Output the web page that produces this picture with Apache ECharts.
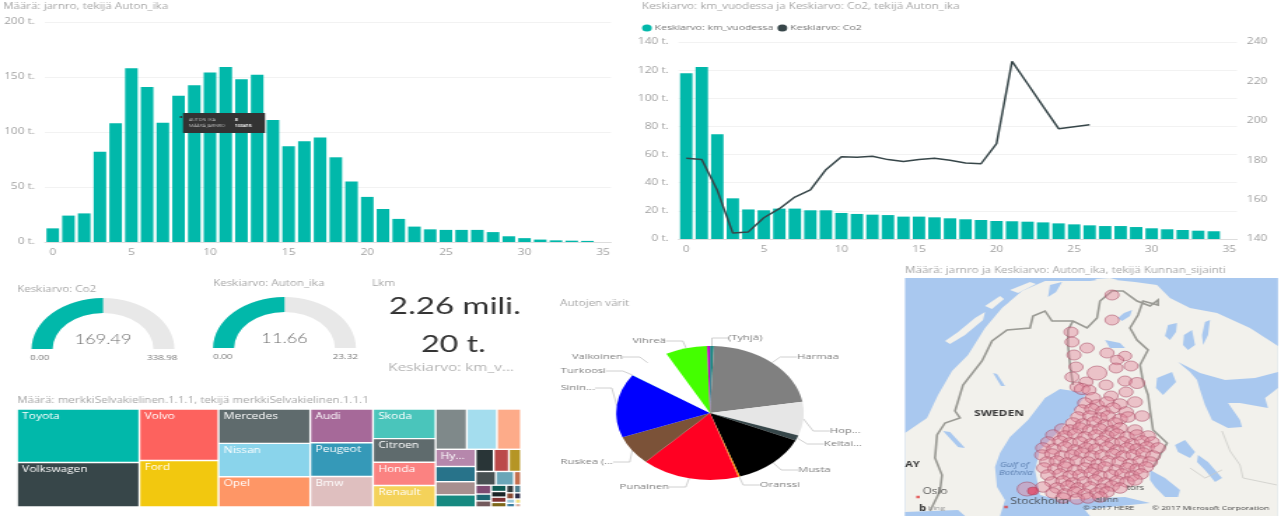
<!DOCTYPE html>
<html>
<head>
<meta charset="utf-8">
<title>Autot</title>
<script src="https://cdn.jsdelivr.net/npm/echarts@6/dist/echarts.min.js"></script>
<style>
    html, body { margin: 0; padding: 0; background: #fff; overflow: hidden; }
    /* the dashboard is wider than tall in the picture, everything is stretched sideways */
    #main { width: 915.72px; height: 519px; transform: scaleX(1.4); transform-origin: 0 0; }
</style>
</head>
<body>
<div id="main"></div>
<script>
const ageLabels = ['0','1','2','3','4','5','6','7','8','9','10','11','12','13','14','15','16','17','18','19','20','21','22','23','24','25','26','27','28','29','30','31','32','33','34','35'];
const countByAge = [12.4,24,26,82,108,158,141,108.5,133,142.4,154,159,148,152,111,87,91.5,95,77,55,41,30,21,14,11.5,11,11,11,9,5.2,3.5,2.2,1.5,1.2,1,null];
const kmByAge = [117.8,122.3,74.4,28.9,21,20.4,21.6,21.6,20.4,20.4,18.5,17.8,17.3,17,15.9,15.9,15.4,14.7,14,13.5,12.8,12.6,12.3,11.8,11.1,10.4,9.7,9.2,9.2,8.5,7.6,6.9,6.4,5.9,5.5,null];
const co2ByAge = [181,180.4,164.7,143,143.6,150.8,155.4,161.3,164.9,175.2,181.8,181.5,182,180.3,179.3,180.4,181,180,178.6,178.2,188.4,230.2,218.8,207.3,196,197,198,null,null,null,null,null,null,null,null,null];

const co2Gauge = { value: 169.49, max: 338.98 };
const ageGauge = { value: 11.66, max: 23.32 };

const colorNames = ['(Tyhjä)','Harmaa','Hop...','Keltai...','Musta','Oranssi','Punainen','Ruskea (...','Sinin...','Turkoosi','Valkoinen','Vihreä','Violetti'];
const colorShares = [0.65,21.7,8.1,1.3,13.1,0.3,16.9,7.1,15.4,0.1,7.7,7.2,0.5];
const colorFills = ['#168980','#808080','#e6e6e6','#37474a','#000000','#ff9900','#ff0022','#7b5238','#0000ff','#40e0d0','#ffffff','#44ff00','#c800c8'];

const brandsA = [['Toyota',6150],['Volkswagen',5100]];
const brandsB = [['Volvo',3825],['Ford',3450]];
const brandsC = [['Mercedes',2960],['Nissan',2870],['Opel',2610]];
const brandsD = [['Audi',1990],['Peugeot',1980],['Bmw',1800]];
const brandsE = [['Skoda',1740],['Citroen',1380],['Honda',1370],['Renault',1260]];
const tailTop = [['m1',1180],['m2',1140],['m3',910]];
const tailMid = [['Hy...',646],['m4',570],['m5',494],['m6',456]];
const tailRow1 = [['m7',378],['m8',315],['m9',252]];
const tailRow2 = [['m10',260],['m11',234],['m12',91]];
const tinyA = [['m13',130],['m14',100],['m15',90]];
const tinyB = [['m16',90],['m17',80],['m18',75],['m19',65]];
const tinyC = [['m20',55],['m21',50],['m22',45],['m23',40],['m24',35],['m25',30],['m26',25],['m27',20]];

const brandColors = {
    Toyota:'#01B8AA', Volkswagen:'#374649', Volvo:'#FD625E', Ford:'#F2C80F', Mercedes:'#5F6B6D', Nissan:'#8AD4EB',
    Opel:'#FE9666', Audi:'#A66999', Peugeot:'#3599B8', Bmw:'#DFBFBF', Skoda:'#4AC5BB', Citroen:'#5F6B6D', Honda:'#FB8281',
    Renault:'#F4D25A', m1:'#7F898A', m2:'#A4DDEE', m3:'#FDAB89', 'Hy...':'#B687AC', m4:'#28738A', m5:'#A78F8F', m6:'#168980',
    m7:'#293537', m8:'#BB4A4A', m9:'#B59525', m10:'#475052', m11:'#6AA6B8', m12:'#C46F4E',
    m13:'#7F4B73', m14:'#1E6673', m15:'#73595C', m16:'#0F5C55', m17:'#1A2426', m18:'#803333', m19:'#7D6719',
    m20:'#313C3E', m21:'#4E7F8F', m22:'#8A4A33', m23:'#2E2E4A', m24:'#99C9DC', m25:'#3C7FA0', m26:'#F0E080', m27:'#D9B0A0'
};

// map picture, reference pixels
const mapLand = [[905,433],[927,418],[938,395],[952,371],[968,355],[985,328],[1002,308],[1022,291],[1045,281],[1090,281],[1105,279],[1135,282],[1157,285],[1170,298],[1190,308],[1217,313],[1250,328],[1278,346],[1278,516],[905,516]];
const mapSeas = [
    [[1087,393],[1060,389],[1045,398],[1028,420],[1010,437],[1000,453],[995,467],[997,487],[1005,500],[1000,516],[1090,516],[1085,510],[1110,507],[1150,503],[1125,497],[1100,498],[1060,500],[1040,495],[1035,470],[1040,450],[1060,430],[1075,410]],
    [[1178,362],[1200,373],[1225,380],[1255,378],[1278,372],[1278,388],[1265,398],[1268,408],[1240,403],[1228,403],[1240,420],[1242,427],[1228,428],[1212,420],[1205,405],[1200,390],[1197,380],[1190,372]],
    [[905,512],[958,510],[965,516],[905,516]],
    [[1150,470],[1165,478],[1180,490],[1178,497],[1165,497],[1155,487],[1150,480]],
    [[1198,455],[1208,462],[1222,478],[1215,482],[1205,470],[1197,462]],
    [[1118,318],[1124,313],[1132,310],[1130,316],[1122,321]],
    [[1168,325],[1177,323],[1176,332],[1170,340],[1165,336]],
    [[1184,335],[1192,330],[1195,345],[1188,350],[1183,345]],
    [[1205,322],[1210,320],[1208,335],[1203,345],[1202,335]],
    [[1157,378],[1172,372],[1176,382],[1163,395],[1156,388]],
    [[1175,445],[1185,440],[1195,452],[1190,458],[1178,452]],
    [[1105,340],[1120,343],[1125,348],[1110,348]],
    [[993,373],[997,374],[1005,386],[1001,386]],
    [[943,431],[950,432],[965,448],[958,447]],
    [[1050,285],[1062,282],[1056,292],[1048,297]],
    [[1000,297],[1014,292],[1008,303],[1000,306]]
];
const mapIslands = [
    [[945,341],[958,332],[975,318],[985,312],[983,320],[965,335],[950,344]],
    [[985,306],[1000,296],[1004,299],[992,309]],
    [[1010,290],[1030,282],[1036,284],[1018,293]],
    [[1095,279],[1110,278],[1118,280],[1100,283]]
];
const mapBorders = [
    [[930,511],[940,491],[942,475],[935,458],[937,435],[945,423],[960,418],[955,411],[963,385],[982,361],[992,341],[1007,330],[1030,328],[1033,316],[1045,311],[1052,321],[1073,321],[1087,328],[1097,318],[1100,301],[1112,291],[1123,291],[1137,301],[1150,306],[1158,300],[1158,305],[1143,301],[1138,315],[1130,328],[1137,340],[1148,350],[1140,365],[1143,381],[1148,395],[1150,410],[1153,430],[1167,443],[1153,467]],
    [[1073,321],[1068,330],[1068,345],[1070,365],[1073,385]]
];
const mapThinBorders = [
    [[1222,431],[1230,451],[1240,465],[1243,478],[1277,485]],
    [[1190,468],[1205,478],[1222,470]]
];
const northBubbles = [[1112,295,10],[1112,320,10],[1071,332,10],[1072,342,10],[1087,348,10],[1074,355,10],[1107,353,10],[1125,356,9.5],[1117,360,9.5],[1076,367,10],[1131,366,10],[1116,368,10],[1097,373,14],[1072,377,10],[1125,381,10],[1137,383,11],[1086,382,10],[1106,385,10],[1077,387,10],[1082,389,11],[1089,390,10],[1126,392,10],[1111,396,10],[1093,398,11]];
const southBubbles = [
    [1085,403],[1097,405],[1107,402],[1120,404],[1135,402],
    [1082,410],[1092,409],[1103,411],[1113,408],[1126,412],
    [1078,417],[1090,416],[1100,418],[1108,416],[1120,419],[1128,417],[1142,416],
    [1073,423],[1083,424],[1094,422],[1105,425],[1115,423],
    [1062,429],[1070,430],[1080,428],[1090,430],[1100,429],[1112,431],[1120,428],[1135,430],
    [1053,435],[1065,436],[1075,434],[1085,437],[1096,435],[1107,436],[1117,434],[1127,437],[1137,435],[1148,436],
    [1048,442],[1060,441],[1070,443],[1080,442],[1091,444],[1102,441],[1112,443],[1122,442],[1132,444],[1142,441],[1152,442],
    [1043,448],[1054,449],[1065,447],[1075,450],[1086,448],[1096,449],[1107,447],[1117,450],[1127,448],[1137,449],[1147,447],[1158,448],
    [1042,455],[1052,454],[1062,456],[1072,455],[1082,453],[1092,456],[1102,455],[1113,454],[1123,456],[1133,455],[1143,453],[1153,456],
    [1047,462],[1057,461],[1067,463],[1077,461],[1088,462],[1098,464],[1108,461],[1119,462],[1130,464],[1140,461],[1150,462],
    [1044,468],[1055,469],[1065,467],[1075,470],[1085,468],[1095,469],[1105,467],[1116,470],[1127,468],[1137,469],[1146,467],
    [1048,475],[1060,474],[1070,476],[1080,475],[1091,473],[1100,476],[1111,475],[1122,474],[1132,476],[1141,474],
    [1052,482],[1063,481],[1073,483],[1084,482],[1095,480],[1105,483],[1117,481],[1127,482],[1135,480],
    [1043,487],[1057,488],[1068,486],[1078,488],[1090,487],[1102,489],[1112,486],[1120,488],
    [1053,493],[1065,494],[1075,492],[1085,494],[1097,493],[1107,492],
    [1063,498],[1077,499],[1088,498],[1100,497],
    [1027,489,14]
];
const alandBubbles = [[1033,491,8]];
const mapCities = [[918,497,'Oslo'],[1006,507,'Stockholm']];

const STRETCH = 1.4;
const sx = (x) => x / STRETCH;

const TEAL = '#01B8AA';
const DARK = '#374649';
const FONT = '"Open Sans", "Noto Sans", sans-serif';
const GRID_LINE = '#f2f2f2';
const TITLE_COLOR = '#a8a8a8';
const TICK_COLOR = '#a0a0a0';

// pie label places in the picture: x, y, alignment
const pieLabelPlaces = [
    [728,338,'left'],[797,357,'left'],[830,431,'left'],[824,444,'left'],[798,470,'left'],[760,485,'left'],
    [669,487,'right'],[613,462,'right'],[595,388,'right'],[606,371,'right'],[623,357,'right'],[666,341,'right'],[710,340,'left']
];

function caption(text, left, top) {
    return { text: text, left: sx(left), top: top, padding: 0,
        textStyle: { color: TITLE_COLOR, fontSize: 8.3, fontWeight: 'normal', fontFamily: FONT } };
}

function ageAxis(gridIndex) {
    return { type: 'category', gridIndex: gridIndex, data: ageLabels,
        axisTick: { show: false }, axisLine: { lineStyle: { color: '#dddddd', width: 1 } }, splitLine: { show: false },
        axisLabel: { interval: 4, color: TICK_COLOR, fontSize: 8.5, fontFamily: FONT, margin: 6 } };
}

function valueAxis(gridIndex, min, max, interval, suffix) {
    return { type: 'value', gridIndex: gridIndex, min: min, max: max, interval: interval,
        axisTick: { show: false }, axisLine: { show: false }, splitLine: { lineStyle: { color: GRID_LINE, width: 1 } },
        axisLabel: { color: TICK_COLOR, fontSize: 8.5, fontFamily: FONT, margin: 7, formatter: '{value}' + suffix } };
}

function hiddenAxis(gridIndex, min, max, inverse) {
    return { type: 'value', gridIndex: gridIndex, min: min, max: max, inverse: inverse, show: false, splitLine: { show: false } };
}

function gauge(item, x, y) {
    return { type: 'gauge', center: [sx(x), y], radius: 51, min: 0, max: item.max, startAngle: 180, endAngle: 0,
        pointer: { show: false }, axisTick: { show: false }, splitLine: { show: false }, axisLabel: { show: false }, title: { show: false },
        axisLine: { lineStyle: { width: 15, color: [[1, '#e8e8e8']] } },
        progress: { show: true, width: 15, itemStyle: { color: TEAL } },
        detail: { offsetCenter: [0, -9], color: '#6a6a6a', fontSize: 13, fontWeight: 300, fontFamily: 'Lato, sans-serif',
            formatter: (v) => v.toFixed(2) },
        data: [{ value: item.value }] };
}

// treemap blocks: the cells are placed as in the picture, columns of rows and rows of columns
const oneCell = (d) => ({ leaf: [d], ratio: 1 });
const stack = (list) => ({ dir: 'col', items: list.map(oneCell) });
const side = (list) => ({ dir: 'row', items: list.map(oneCell) });

const treemapPlan = { dir: 'row', items: [
    stack(brandsA), stack(brandsB), stack(brandsC), stack(brandsD), stack(brandsE),
    { dir: 'col', items: [
        side(tailTop),
        { dir: 'row', items: [
            stack(tailMid),
            { dir: 'col', items: [
                side(tailRow1),
                side(tailRow2),
                { dir: 'row', items: [stack(tinyA), stack(tinyB), { leaf: tinyC, ratio: 1.6 }] }
            ] }
        ] }
    ] }
] };

function planTotal(node) {
    if (node.leaf) return node.leaf.reduce((s, d) => s + d[1], 0);
    return node.items.reduce((s, n) => s + planTotal(n), 0);
}

function treemapSeries(node, rect, out) {
    if (node.leaf) {
        out.push({ type: 'treemap', left: rect.x, top: rect.y, width: rect.w, height: rect.h,
            squareRatio: node.ratio, roam: false, nodeClick: false, silent: true, breadcrumb: { show: false },
            label: { show: true, position: [3, 2], padding: 0, align: 'left', verticalAlign: 'top', color: '#fff', fontSize: 8.5, fontFamily: FONT, overflow: 'none',
                formatter: (p) => (/^m\d+$/.test(p.name)) ? '' : p.name },
            upperLabel: { show: false },
            levels: [{ itemStyle: { borderWidth: 0, gapWidth: 0 } }],
            itemStyle: { borderColor: '#fff', borderWidth: 0.7, gapWidth: 0 },
            data: node.leaf.map((d) => ({ name: d[0], value: d[1], itemStyle: { color: brandColors[d[0]] } })) });
        return out;
    }
    const total = planTotal(node);
    let pos = 0;
    node.items.forEach((child) => {
        const f = planTotal(child) / total;
        const r = node.dir === 'row'
            ? { x: rect.x + rect.w * pos, y: rect.y, w: rect.w * f, h: rect.h }
            : { x: rect.x, y: rect.y + rect.h * pos, w: rect.w, h: rect.h * f };
        treemapSeries(child, r, out);
        pos += f;
    });
    return out;
}

function mapPolygon(shapes, fill, z) {
    return { type: 'custom', xAxisIndex: 2, yAxisIndex: 3, silent: true, z: z, data: shapes.map((s, i) => [i]),
        renderItem: (params, api) => ({ type: 'polygon',
            shape: { points: shapes[params.dataIndex].map((p) => api.coord(p)) }, style: { fill: fill } }) };
}

function mapLines(shapes, color, width, z) {
    return { type: 'custom', xAxisIndex: 2, yAxisIndex: 3, silent: true, z: z, data: shapes.map((s, i) => [i]),
        renderItem: (params, api) => ({ type: 'polyline',
            shape: { points: shapes[params.dataIndex].map((p) => api.coord(p)) }, style: { stroke: color, lineWidth: width, fill: null } }) };
}

function bubbles(data, fill, z) {
    return { type: 'scatter', xAxisIndex: 2, yAxisIndex: 3, data: data, z: z, silent: true,
        symbolSize: (d) => d[2] || 10.5,
        itemStyle: { color: fill, borderColor: 'rgba(165,70,95,0.8)', borderWidth: 0.8 } };
}

function mapText(text, x, y, font, fill) {
    return { type: 'text', x: sx(x), y: y, z: 20, style: { text: text, font: font, fill: fill } };
}

const chart = echarts.init(document.getElementById('main'));
chart.setOption({
    animation: false,
    title: [
        caption('Määrä: jarnro, tekijä Auton_ika', 3, 3),
        caption('Keskiarvo: km_vuodessa ja Keskiarvo: Co2, tekijä Auton_ika', 642, 3),
        caption('Keskiarvo: Co2', 17, 286),
        caption('Keskiarvo: Auton_ika', 213, 280),
        caption('Lkm', 372, 280),
        caption('Autojen värit', 560, 300),
        caption('Määrä: merkkiSelvakielinen.1.1.1, tekijä merkkiSelvakielinen.1.1.1', 17, 397),
        caption('Määrä: jarnro ja Keskiarvo: Auton_ika, tekijä Kunnan_sijainti', 905, 267),
    ],
    legend: { left: sx(642), top: 24, padding: 0, icon: 'circle', itemWidth: 7, itemHeight: 7, itemGap: 3,
        textStyle: { color: '#777', fontSize: 7.5, fontFamily: FONT, padding: [0, 0, 0, -3] },
        data: ['Keskiarvo: km_vuodessa', 'Keskiarvo: Co2'] },
    grid: [
        { left: sx(40), width: sx(571), top: 22, height: 220 },
        { left: sx(678.5), width: sx(558.5), top: 42, height: 197 },
        { left: sx(905), width: sx(373), top: 278, height: 238, show: true, backgroundColor: '#a9c8ef', borderWidth: 0 },
    ],
    xAxis: [ageAxis(0), ageAxis(1), hiddenAxis(2, 905, 1278, false)],
    yAxis: [
        valueAxis(0, 0, 200, 50, ' t.'),
        valueAxis(1, 0, 140, 20, ' t.'),
        Object.assign(valueAxis(1, 140, 240, 20, ''), { position: 'right', splitLine: { show: false } }),
        hiddenAxis(2, 278, 516, true),
    ],
    series: [
        { type: 'bar', name: 'Määrä: jarnro', xAxisIndex: 0, yAxisIndex: 0, data: countByAge, barCategoryGap: '20%', itemStyle: { color: TEAL } },
        { type: 'bar', name: 'Keskiarvo: km_vuodessa', xAxisIndex: 1, yAxisIndex: 1, data: kmByAge, barCategoryGap: '20%', itemStyle: { color: TEAL } },
        { type: 'line', name: 'Keskiarvo: Co2', xAxisIndex: 1, yAxisIndex: 2, data: co2ByAge, showSymbol: false, symbol: 'circle',
            itemStyle: { color: DARK }, lineStyle: { color: DARK, width: 1.5 } },
        gauge(co2Gauge, 103, 349),
        gauge(ageGauge, 284.5, 348),
        { type: 'pie', center: [sx(710), 413], radius: 67, startAngle: 90, silent: true,
            avoidLabelOverlap: false, minShowLabelAngle: 0,
            label: { color: '#808080', fontSize: 8, fontFamily: FONT },
            labelLine: { length: 6, length2: 12, lineStyle: { color: '#c4c4c4', width: 0.8 } },
            labelLayout: (p) => ({ x: sx(pieLabelPlaces[p.dataIndex][0]), y: pieLabelPlaces[p.dataIndex][1],
                align: pieLabelPlaces[p.dataIndex][2], verticalAlign: 'middle' }),
            data: colorNames.map((name, i) => ({
                name: name, value: colorShares[i], itemStyle: { color: colorFills[i] },
                label: { show: name !== 'Violetti' }, labelLine: { show: name !== 'Violetti' }
            })) },
        mapPolygon([mapLand], '#f2f1ec', 1),
        mapPolygon(mapSeas, '#a9c8ef', 2),
        mapPolygon(mapIslands, '#f2f1ec', 2),
        mapLines(mapBorders, '#9a9a94', 1.6, 3),
        mapLines(mapThinBorders, '#c9c9c4', 0.7, 3),
        bubbles(northBubbles, 'rgba(226,135,155,0.55)', 5),
        bubbles(southBubbles, 'rgba(226,135,155,0.55)', 5),
        bubbles(alandBubbles, 'rgba(232,60,90,0.85)', 6),
        { type: 'scatter', xAxisIndex: 2, yAxisIndex: 3, silent: true, z: 7, symbol: 'rect', symbolSize: 2.5,
            data: mapCities, itemStyle: { color: '#e23a3a' },
            label: { show: true, position: 'right', distance: 2, offset: [0, -5], formatter: (p) => p.data[2], color: '#333', fontSize: 8.5, fontFamily: FONT } },
    ].concat(treemapSeries(treemapPlan, { x: sx(17), y: 409, w: sx(504), h: 98 }, [])),
    graphic: { elements: [
        { type: 'rect', x: sx(183), y: 113, z: 20, shape: { width: sx(82), height: 20 }, style: { fill: '#333333' } },
        { type: 'circle', x: sx(181), y: 117, z: 20, shape: { r: 1 }, style: { fill: '#333333' } },
        mapText('AUTON_IKA', 189, 118, '3.5px ' + FONT, '#bbbbbb'),
        mapText('8', 235, 118, 'bold 3.5px ' + FONT, '#ffffff'),
        mapText('MÄÄRÄ JARNRO', 189, 124, '3.5px ' + FONT, '#bbbbbb'),
        mapText('133415', 235, 124, 'bold 3.5px ' + FONT, '#ffffff'),

        mapText('0.00', 30, 354, '7px ' + FONT, '#777777'),
        mapText('338.98', 147, 354, '7px ' + FONT, '#777777'),
        mapText('0.00', 213, 353, '7px ' + FONT, '#777777'),
        mapText('23.32', 333, 353, '7px ' + FONT, '#777777'),

        mapText('2.26 mili.', 389, 294, '23.5px Lato, sans-serif', '#333333'),
        mapText('20 t.', 421, 333, '23px Lato, sans-serif', '#333333'),
        mapText('Keskiarvo: km_v...', 388, 362, '11px ' + FONT, '#b4b4b4'),

        mapText('SWEDEN', 974, 409, 'bold 8.5px ' + FONT, '#3a3a3a'),
        mapText('AY', 905, 461, 'bold 8px ' + FONT, '#3a3a3a'),
        mapText('Gulf of', 1000, 461, 'italic 7px ' + FONT, '#5b7fb0'),
        mapText('Bothnia', 999, 469, 'italic 7px ' + FONT, '#5b7fb0'),
        mapText('tors', 1127, 485, '6.5px ' + FONT, '#444444'),
        mapText('allinn', 1095, 497, '6.5px ' + FONT, '#555555'),
        mapText('b', 919, 505, 'bold 8px ' + FONT, '#333333'),
        mapText('bing', 928, 505, '6px ' + FONT, '#999999'),
        mapText('© 2017 HERE', 1083, 505, '6px ' + FONT, '#444444'),
        mapText('© 2017 Microsoft Corporation', 1152, 505, '6px ' + FONT, '#444444'),
    ] },
});
</script>
</body>
</html>
